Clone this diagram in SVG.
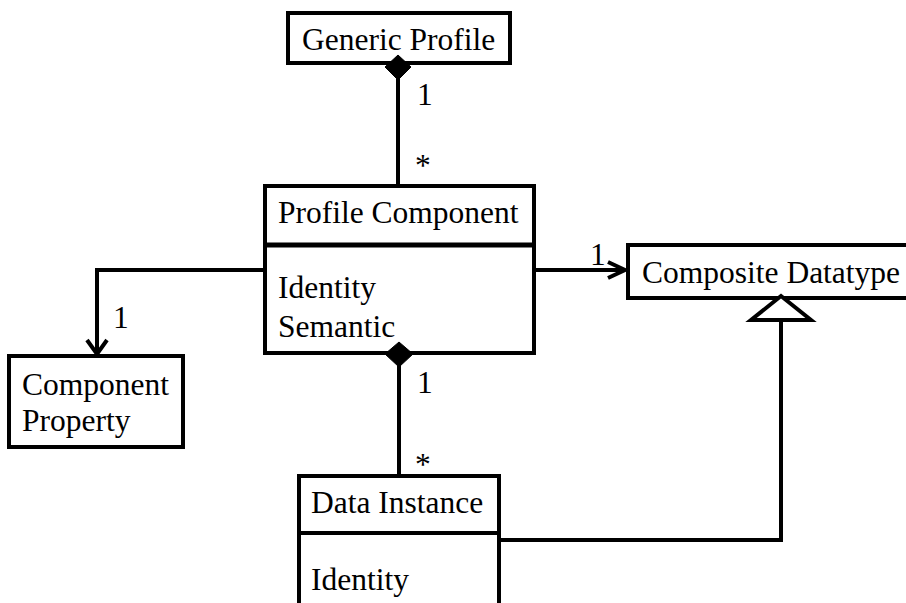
<svg xmlns="http://www.w3.org/2000/svg" width="906" height="603" viewBox="0 0 906 603">
<style>
.box{fill:#fff;stroke:#000;stroke-width:4}
.div{stroke:#000;stroke-width:5}
.t{font-family:"Liberation Serif","Times New Roman",serif;font-size:31.5px;fill:#000}
.c{fill:none;stroke:#000;stroke-width:4}
.dia{fill:#000;stroke:#000;stroke-width:1}
.tri{fill:#fff;stroke:#000;stroke-width:4}
</style>
<rect width="906" height="603" fill="#fff"/>
<g id="connectors">
<line class="c" x1="398" y1="78" x2="398" y2="186"/>
<polyline class="c" points="265,270 97,270 97,353"/>
<polyline class="c" points="87,340 97,354 107,340"/>
<line class="c" x1="534" y1="270" x2="625" y2="270"/>
<polyline class="c" points="608,262 625,270 608,278"/>
<line class="c" x1="399" y1="365" x2="399" y2="476"/>
<polyline class="c" points="499,540 781,540 781,320"/>
<text class="t" x="417" y="105">1</text>
<text class="t" x="415" y="176">*</text>
<text class="t" x="113" y="328">1</text>
<text class="t" x="590" y="265">1</text>
<text class="t" x="417" y="393">1</text>
<text class="t" x="415" y="475">*</text>
</g>
<g id="generic-profile">
<rect class="box" x="288" y="13" width="222" height="50"/>
<text class="t" x="302" y="50">Generic Profile</text>
</g>
<g id="profile-component">
<rect class="box" x="265" y="186" width="269" height="167"/>
<line class="div" x1="265" y1="245" x2="534" y2="245"/>
<text class="t" x="278" y="223">Profile Component</text>
<text class="t" x="278" y="298">Identity</text>
<text class="t" x="278" y="337">Semantic</text>
</g>
<g id="composite-datatype">
<rect class="box" x="628" y="245" width="300" height="53"/>
<text class="t" x="642" y="283">Composite Datatype</text>
</g>
<g id="component-property">
<rect class="box" x="9" y="356" width="174" height="91"/>
<text class="t" x="22" y="395">Component</text>
<text class="t" x="22" y="431">Property</text>
</g>
<g id="data-instance">
<rect class="box" x="299" y="476" width="200" height="160"/>
<line class="c" x1="299" y1="533" x2="499" y2="533"/>
<text class="t" x="311" y="513">Data Instance</text>
<text class="t" x="311" y="590">Identity</text>
</g>
<g id="markers">
<polygon class="dia" points="398,55 411,67 398,80 385,67"/>
<polygon class="dia" points="399,342 413,354 399,367 385,354"/>
<polygon class="tri" points="781,296 811,320 751,320"/>
</g>
</svg>
